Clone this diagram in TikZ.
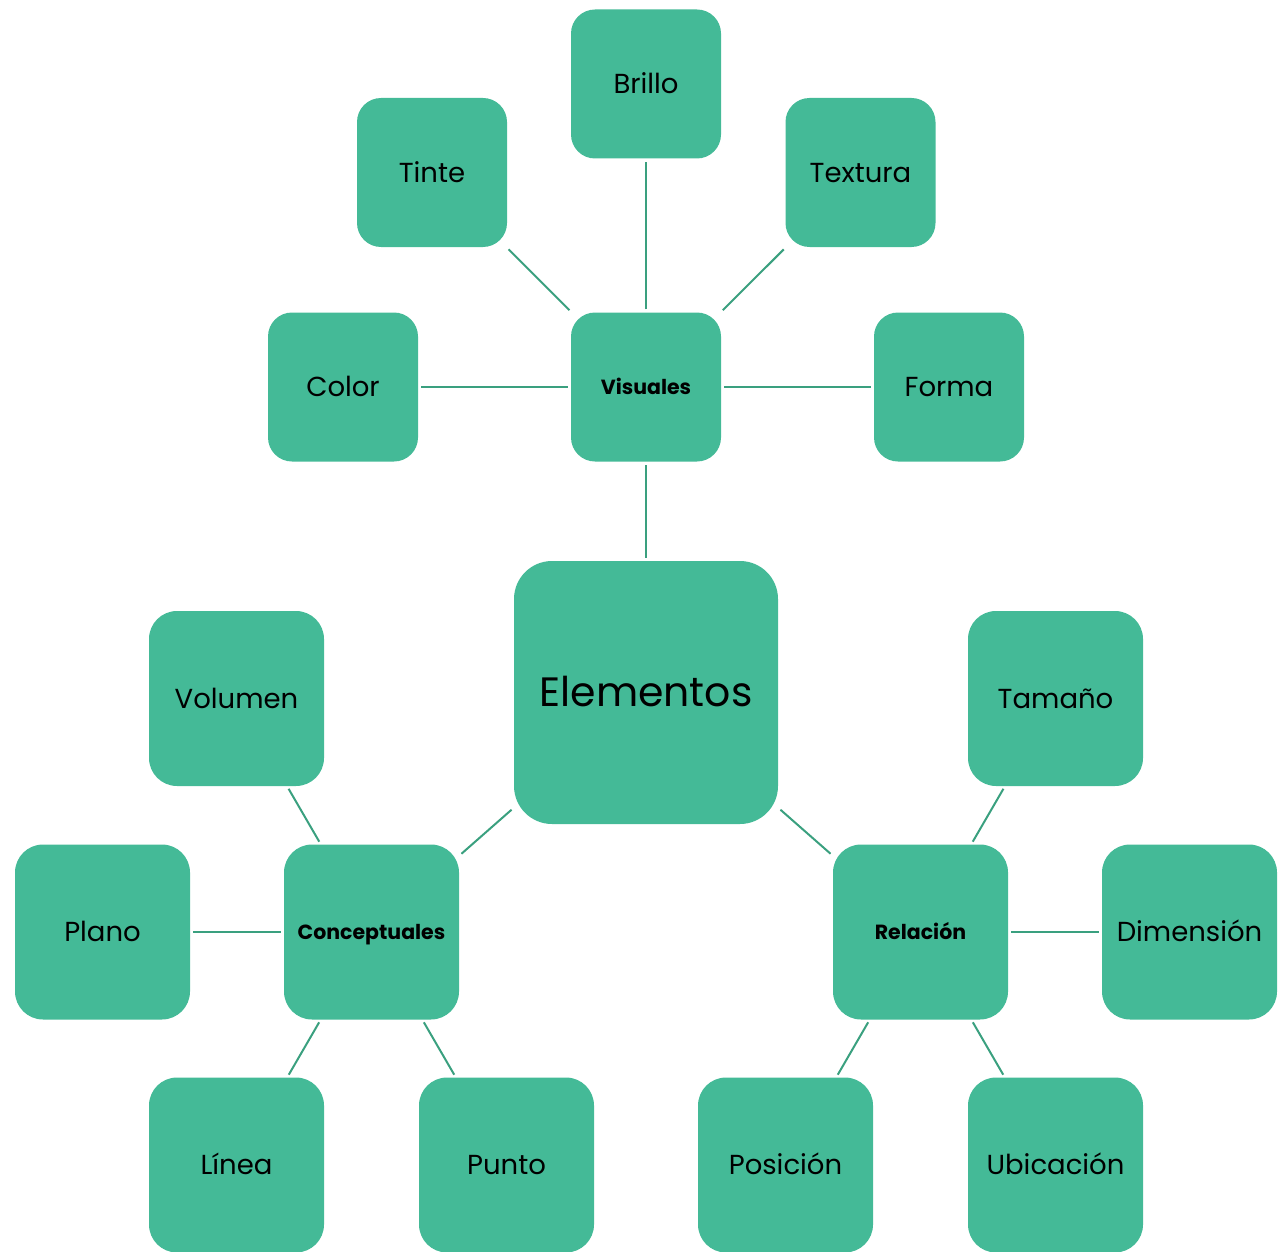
\documentclass[tikz,border=0pt]{standalone}
\usepackage{fontspec}
\setmainfont{Poppins}
\definecolor{boxfill}{HTML}{44BA97}
\definecolor{linkcol}{HTML}{3AA07F}
\tikzset{
  box/.style={fill=boxfill, draw=none, inner sep=0pt, text=black, align=center},
  regtext/.style={font=\fontsize{27.5}{32}\selectfont, text height=19.3pt, text depth=0pt},
  boldtext/.style={font=\fontsize{20.5}{24}\selectfont\bfseries, text height=14.3pt, text depth=0pt},
  smallbox/.style={box, minimum width=150pt, minimum height=149pt, rounded corners=24pt, regtext},
  midbox/.style={box, minimum width=175pt, minimum height=175pt, rounded corners=28pt, regtext},
  hubsmall/.style={smallbox, boldtext},
  hubmid/.style={midbox, boldtext},
  bigbox/.style={box, minimum width=264pt, minimum height=263pt, rounded corners=38pt, font=\fontsize{41}{46}\selectfont, text height=28.7pt, text depth=0pt},
  link/.style={draw=linkcol, line width=2pt, shorten <=3pt, shorten >=3pt}
}
\begin{document}
\begin{tikzpicture}[x=1pt, y=-1pt]
\useasboundingbox (0,0) rectangle (1279,1252);
% top cluster
\node[smallbox] (brillo) at (646,84) {Brillo};
\node[smallbox] (tinte) at (432,172.5) {Tinte};
\node[smallbox] (textura) at (860.5,172.5) {Textura};
\node[smallbox] (color) at (343,387) {Color};
\node[hubsmall] (visuales) at (646,387) {Visuales};
\node[smallbox] (forma) at (949,387) {Forma};
% center
\node[bigbox] (elementos) at (646,692.5) {Elementos};
% left cluster
\node[midbox] (volumen) at (236.5,698.5) {Volumen};
\node[midbox] (plano) at (102.5,932) {Plano};
\node[hubmid] (conceptuales) at (371.5,932) {Conceptuales};
\node[midbox] (linea) at (236.5,1165) {Línea};
\node[midbox] (punto) at (506.5,1165) {Punto};
% right cluster
\node[midbox] (tamano) at (1055.5,698.5) {Tamaño};
\node[hubmid] (relacion) at (920.5,932) {Relación};
\node[midbox] (dimension) at (1189.5,932) {Dimensión};
\node[midbox] (posicion) at (785.5,1165) {Posición};
\node[midbox] (ubicacion) at (1055.5,1165) {Ubicación};
% connectors
\draw[link] (visuales) -- (brillo);
\draw[link] (visuales) -- (tinte);
\draw[link] (visuales) -- (textura);
\draw[link] (visuales) -- (color);
\draw[link] (visuales) -- (forma);
\draw[link] (elementos) -- (visuales);
\draw[link] (elementos) -- (conceptuales);
\draw[link] (elementos) -- (relacion);
\draw[link] (conceptuales) -- (volumen);
\draw[link] (conceptuales) -- (plano);
\draw[link] (conceptuales) -- (linea);
\draw[link] (conceptuales) -- (punto);
\draw[link] (relacion) -- (tamano);
\draw[link] (relacion) -- (dimension);
\draw[link] (relacion) -- (posicion);
\draw[link] (relacion) -- (ubicacion);
\end{tikzpicture}
\end{document}
